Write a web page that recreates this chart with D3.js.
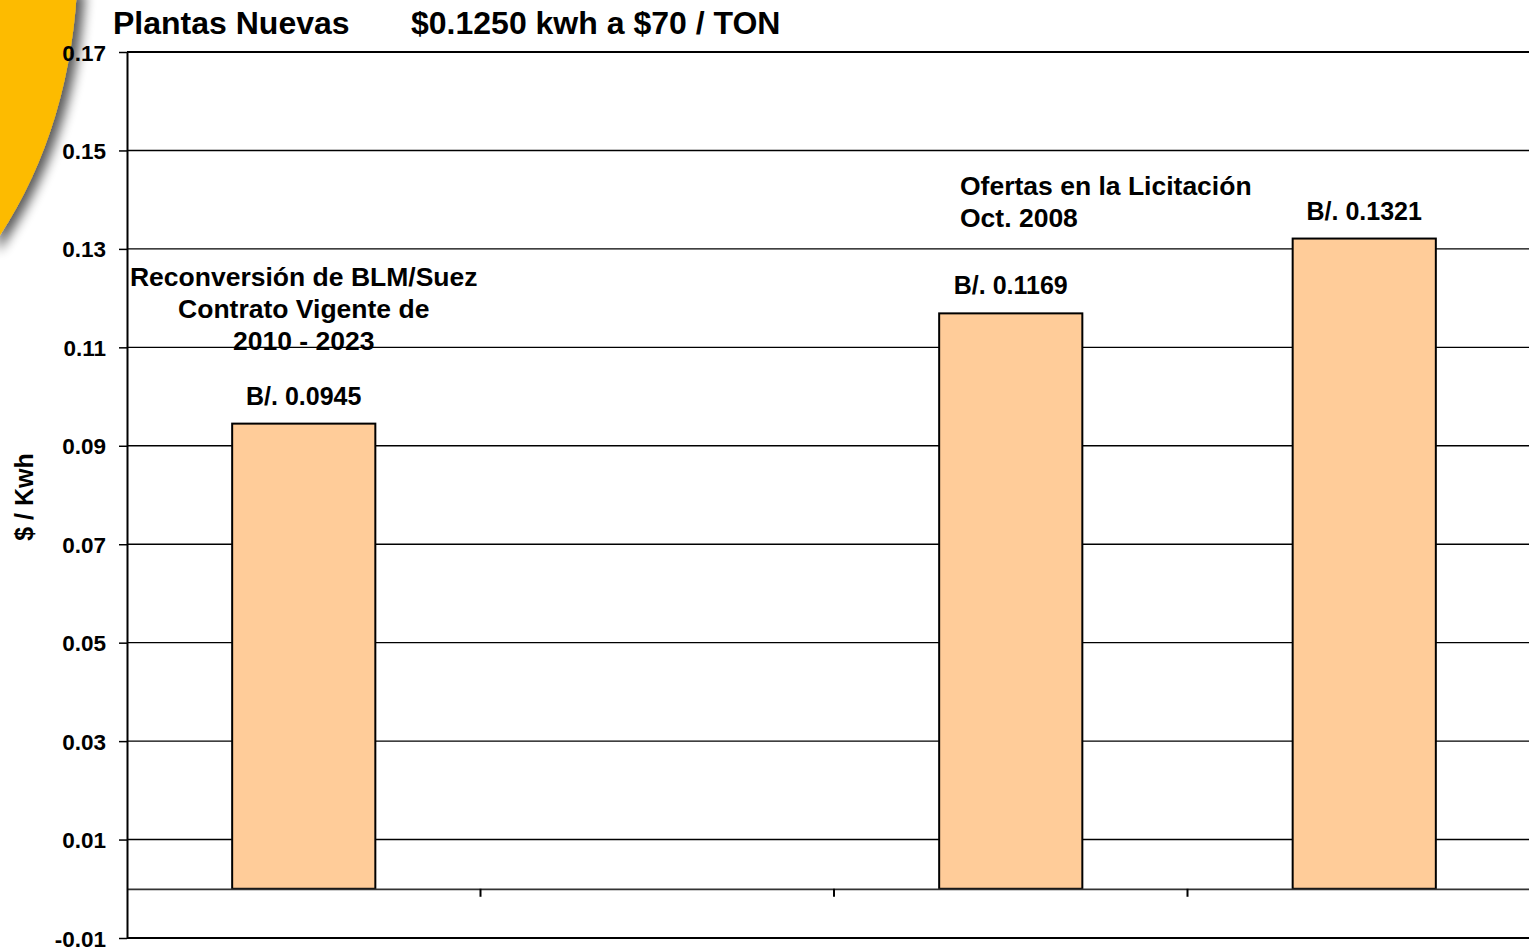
<!DOCTYPE html>
<html>
<head>
<meta charset="utf-8">
<script src="https://cdn.jsdelivr.net/npm/d3@7"></script>
<style>
  body { margin: 0; background: #fff; overflow: hidden; }
  svg { display: block; font-family: "Liberation Sans", Arial, sans-serif; font-weight: bold; }
</style>
</head>
<body>
<svg id="chart" width="1529" height="949"></svg>
<script>
// data
var categories = ["c1", "c2", "c3", "c4"];
var values = [0.0945, null, 0.1169, 0.1321];
var valueLabels = ["B/. 0.0945", "", "B/. 0.1169", "B/. 0.1321"];
var yTicks = [-0.01, 0.01, 0.03, 0.05, 0.07, 0.09, 0.11, 0.13, 0.15, 0.17];
var titleLeft = "Plantas Nuevas";
var titleRight = "$0.1250 kwh a $70 / TON";
var yTitle = "$ / Kwh";
var noteLeft = ["Reconversión de BLM/Suez", "Contrato Vigente de", "2010 - 2023"];
var noteRight = ["Ofertas en la Licitación", "Oct. 2008"];

var svg = d3.select("#chart");

// yellow corner decoration
var defs = svg.append("defs");
var f = defs.append("filter").attr("id", "shadow").attr("x", "-50%").attr("y", "-50%").attr("width", "200%").attr("height", "200%");
f.append("feGaussianBlur").attr("in", "SourceAlpha").attr("stdDeviation", 6).attr("result", "b");
f.append("feOffset").attr("in", "b").attr("dx", 8).attr("dy", 2).attr("result", "o");
f.append("feComponentTransfer").attr("in", "o").attr("result", "s")
  .append("feFuncA").attr("type", "linear").attr("slope", 0.65);
var m = f.append("feMerge");
m.append("feMergeNode").attr("in", "s");
m.append("feMergeNode").attr("in", "SourceGraphic");

svg.append("path")
  .attr("d", "M-10,-10 L77,-10 Q68,140 -10,250 Z")
  .attr("fill", "#FDBB00")
  .attr("filter", "url(#shadow)");

var plotLeft = 127, plotRight = 1541, plotTop = 52, plotBottom = 938;

var x = d3.scaleBand().domain(categories).range([plotLeft, plotRight]).padding(0);
var y = d3.scaleLinear().domain([-0.01, 0.17]).range([plotBottom, plotTop]);

// gridlines
svg.append("g")
  .selectAll("line")
  .data(yTicks)
  .enter().append("line")
  .attr("x1", plotLeft).attr("x2", 1529)
  .attr("y1", function(d) { return y(d); })
  .attr("y2", function(d) { return y(d); })
  .attr("stroke", "#000")
  .attr("stroke-width", function(d) { return (d === 0.17 || d === -0.01) ? 2 : 1.4; });

var barData = categories.map(function(c, i) { return {c: c, v: values[i], l: valueLabels[i]}; })
  .filter(function(d) { return d.v !== null; });

// bars
var barW = x.bandwidth() * 0.405;
svg.append("g")
  .selectAll("rect")
  .data(barData)
  .enter().append("rect")
  .attr("x", function(d) { return x(d.c) + (x.bandwidth() - barW) / 2; })
  .attr("width", barW)
  .attr("y", function(d) { return y(d.v); })
  .attr("height", function(d) { return y(0) - y(d.v); })
  .attr("fill", "#FFCC99")
  .attr("stroke", "#000")
  .attr("stroke-width", 2);

// zero line (category axis)
var xAxis = svg.append("g")
  .attr("transform", "translate(0," + y(0) + ")")
  .call(d3.axisBottom(x).tickSizeInner(0).tickSizeOuter(0).tickFormat(""));
xAxis.select(".domain").attr("stroke", "#333").attr("stroke-width", 1.8);
xAxis.selectAll(".tick").remove();
xAxis.selectAll("line.sep")
  .data(categories.slice(1))
  .enter().append("line")
  .attr("class", "sep")
  .attr("x1", function(d) { return x(d); })
  .attr("x2", function(d) { return x(d); })
  .attr("y1", 0).attr("y2", 8)
  .attr("stroke", "#000").attr("stroke-width", 2);

// y axis
var fmt = d3.format(".2f");
var yAxis = svg.append("g")
  .attr("transform", "translate(" + plotLeft + ",0)")
  .call(d3.axisLeft(y).tickValues(yTicks).tickSize(8).tickSizeOuter(0).tickPadding(13)
    .tickFormat(function(d) { return fmt(d).replace("\u2212", "-"); }));
yAxis.select(".domain").attr("stroke", "#000").attr("stroke-width", 2);
yAxis.selectAll(".tick line").attr("stroke", "#000").attr("stroke-width", 1.5);
yAxis.selectAll(".tick text")
  .attr("fill", "#000")
  .style("font-size", "22.5px")
  .style("font-family", "'Liberation Sans', Arial, sans-serif")
  .style("font-weight", "bold")
  .attr("dy", "0.36em");

// value labels
svg.append("g")
  .selectAll("text")
  .data(barData)
  .enter().append("text")
  .attr("x", function(d) { return x(d.c) + x.bandwidth() / 2; })
  .attr("y", function(d) { return y(d.v) - 19; })
  .attr("text-anchor", "middle")
  .style("font-size", "25px")
  .text(function(d) { return d.l; });

// notes
svg.append("g")
  .selectAll("text")
  .data(noteLeft)
  .enter().append("text")
  .attr("x", x("c1") + x.bandwidth() / 2)
  .attr("y", function(d, i) { return 286 + i * 32; })
  .attr("text-anchor", "middle")
  .style("font-size", "26.5px")
  .text(function(d) { return d; });

svg.append("g")
  .selectAll("text")
  .data(noteRight)
  .enter().append("text")
  .attr("x", 960)
  .attr("y", function(d, i) { return 195 + i * 32; })
  .style("font-size", "26.5px")
  .text(function(d) { return d; });

// titles
svg.append("text").attr("x", 113).attr("y", 34).style("font-size", "32px").text(titleLeft);
svg.append("text").attr("x", 411).attr("y", 34).style("font-size", "32px").text(titleRight);

svg.append("text")
  .attr("transform", "translate(33,497) rotate(-90)")
  .attr("text-anchor", "middle")
  .style("font-size", "25px")
  .text(yTitle);
</script>
</body>
</html>
